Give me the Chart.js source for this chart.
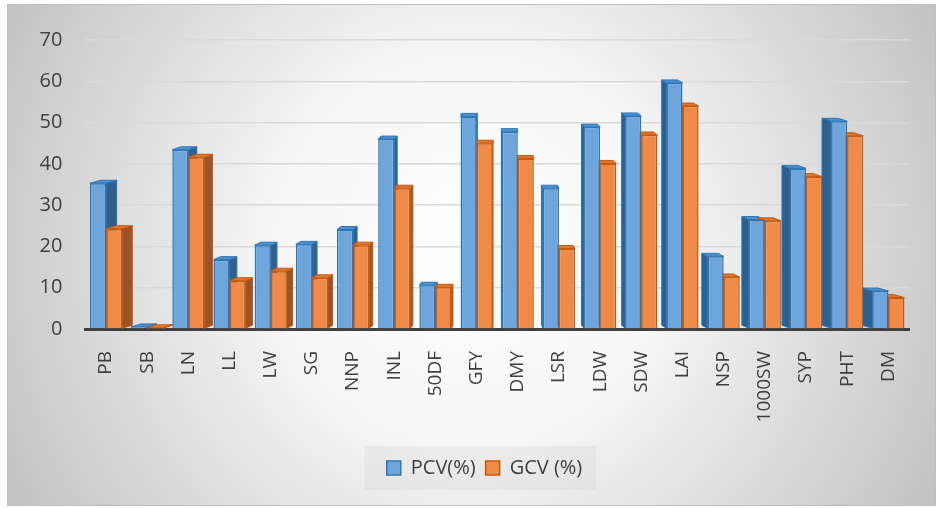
<!DOCTYPE html>
<html>
<head>
<meta charset="utf-8">
<script src="https://cdn.jsdelivr.net/npm/chart.js@4.4.1/dist/chart.umd.min.js"></script>
<style>
  html, body { margin: 0; padding: 0; background: #ffffff; }
  #wrap { position: absolute; left: 0; top: 0; width: 940px; height: 508px; }
  canvas { display: block; }
</style>
</head>
<body>
<div id="wrap"><canvas id="chart" width="940" height="508"></canvas></div>
<script>
// Trait codes along the x axis
const traits = ['PB', 'SB', 'LN', 'LL', 'LW', 'SG', 'NNP', 'INL', '50DF', 'GFY',
                'DMY', 'LSR', 'LDW', 'SDW', 'LAI', 'NSP', '1000SW', 'SYP', 'PHT', 'DM'];

// Phenotypic coefficient of variation (%)
const pcv = [35.3, 0.5, 43.4, 16.8, 20.3, 20.5, 24.1, 46.0, 10.6, 51.5,
             47.8, 34.1, 48.9, 51.6, 59.6, 17.6, 26.5, 38.9, 50.3, 9.2];

// Genotypic coefficient of variation (%)
const gcv = [24.3, 0.3, 41.6, 11.7, 14.0, 12.4, 20.3, 34.1, 10.1, 45.0,
             41.3, 19.5, 40.1, 47.0, 54.0, 12.6, 26.2, 36.9, 46.8, 7.6];

// Value axis ticks
const yTicks = [0, 10, 20, 30, 40, 50, 60, 70];

const FONT = '"Open Sans", "Noto Sans", sans-serif';

// Face colours for the extruded columns: [cap, side]
const faces = [
  { cap: '#4f8fcc', side: '#2f5f8c', edge: '#2e75b6' },
  { cap: '#e07530', side: '#9c5326', edge: '#c55a11' }
];

// Soft radial backdrop, frame and legend panel
const backdrop = {
  id: 'backdrop',
  afterLayout(chart) {
    // centre the legend under the whole plot rather than the padded box
    const lg = chart.legend;
    lg.left += 20;
    lg.right += 20;
  },
  beforeDraw(chart) {
    const ctx = chart.ctx;
    ctx.save();
    ctx.fillStyle = '#ffffff';
    ctx.fillRect(0, 0, chart.width, chart.height);
    const g = ctx.createRadialGradient(470, 250, 0, 470, 250, 560);
    g.addColorStop(0, '#ffffff');
    g.addColorStop(0.35, '#f6f6f6');
    g.addColorStop(1, '#bdbdbd');
    ctx.fillStyle = g;
    ctx.fillRect(8, 5, 927, 500);
    ctx.strokeStyle = '#bfbfbf';
    ctx.lineWidth = 1;
    ctx.strokeRect(7.5, 4.5, 928, 501);

    const lg = chart.legend;
    if (lg && lg.legendHitBoxes && lg.legendHitBoxes.length) {
      const boxes = lg.legendHitBoxes;
      const left = Math.min(...boxes.map(b => b.left)) - 22;
      const right = Math.max(...boxes.map(b => b.left + b.width)) + 14;
      const top = Math.min(...boxes.map(b => b.top)) - 12;
      const bottom = Math.max(...boxes.map(b => b.top + b.height)) + 12;
      ctx.fillStyle = 'rgba(0,0,0,0.035)';
      ctx.fillRect(left, top, right - left, bottom - top);
    }
    ctx.restore();
  },
  // depth faces behind each column, sized from the bar elements themselves
  beforeDatasetsDraw(chart) {
    const ctx = chart.ctx;
    const area = chart.chartArea;
    const cx = (area.left + area.right) / 2;
    const half = (area.right - area.left) / 2;
    ctx.save();
    [0, 1].forEach(di => {
      const meta = chart.getDatasetMeta(di);
      const f = faces[di];
      meta.data.forEach(bar => {
        const p = bar.getProps(['x', 'y', 'base', 'width'], true);
        const l = p.x - p.width / 2;
        const r = p.x + p.width / 2;
        const top = p.y;
        const base = p.base;
        const dx = 11 * (cx - p.x) / half;
        const dy = -3;
        // side face
        const sx = dx >= 0 ? r : l;
        ctx.beginPath();
        ctx.moveTo(sx, top);
        ctx.lineTo(sx + dx, top + dy);
        ctx.lineTo(sx + dx, base + dy);
        ctx.lineTo(sx, base);
        ctx.closePath();
        ctx.fillStyle = f.side;
        ctx.fill();
        ctx.strokeStyle = f.edge;
        ctx.lineWidth = 1;
        ctx.stroke();
        // cap face
        ctx.beginPath();
        ctx.moveTo(l, top);
        ctx.lineTo(l + dx, top + dy);
        ctx.lineTo(r + dx, top + dy);
        ctx.lineTo(r, top);
        ctx.closePath();
        ctx.fillStyle = f.cap;
        ctx.fill();
        ctx.stroke();
      });
    });
    ctx.restore();
  }
};

new Chart(document.getElementById('chart'), {
  type: 'bar',
  data: {
    labels: traits,
    datasets: [
      {
        label: 'PCV(%)',
        data: pcv,
        backgroundColor: '#6ea6dc',
        borderColor: '#2e75b6',
        borderWidth: 1.5,
        categoryPercentage: 0.78,
        barPercentage: 1.0
      },
      {
        label: 'GCV (%)',
        data: gcv,
        backgroundColor: '#ef8a48',
        borderColor: '#c55a11',
        borderWidth: 1.5,
        categoryPercentage: 0.78,
        barPercentage: 1.0
      }
    ]
  },
  options: {
    responsive: false,
    animation: false,
    devicePixelRatio: 1,
    layout: { padding: { top: 40, left: 20, right: 31, bottom: 20 } },
    plugins: {
      legend: {
        position: 'bottom',
        labels: {
          boxWidth: 14,
          boxHeight: 14,
          padding: 10,
          color: '#404040',
          font: { family: FONT, size: 20 }
        }
      },
      tooltip: { enabled: false }
    },
    scales: {
      x: {
        grid: { display: false },
        border: { display: true, color: '#404040', width: 3 },
        ticks: {
          autoSkip: false,
          minRotation: 90,
          maxRotation: 90,
          padding: 14,
          color: '#404040',
          font: { family: FONT, size: 19 }
        },
        afterFit(scale) { scale.height = 119; }
      },
      y: {
        min: 0,
        max: 70,
        afterBuildTicks(scale) { scale.ticks = yTicks.map(v => ({ value: v })); },
        grid: { color: '#d9d9d9', lineWidth: 1.5, drawTicks: false },
        border: { display: false },
        ticks: {
          padding: 23,
          color: '#404040',
          font: { family: FONT, size: 20 }
        },
        afterFit(scale) { scale.width = 65.4; }
      }
    }
  },
  plugins: [backdrop]
});
</script>
</body>
</html>
